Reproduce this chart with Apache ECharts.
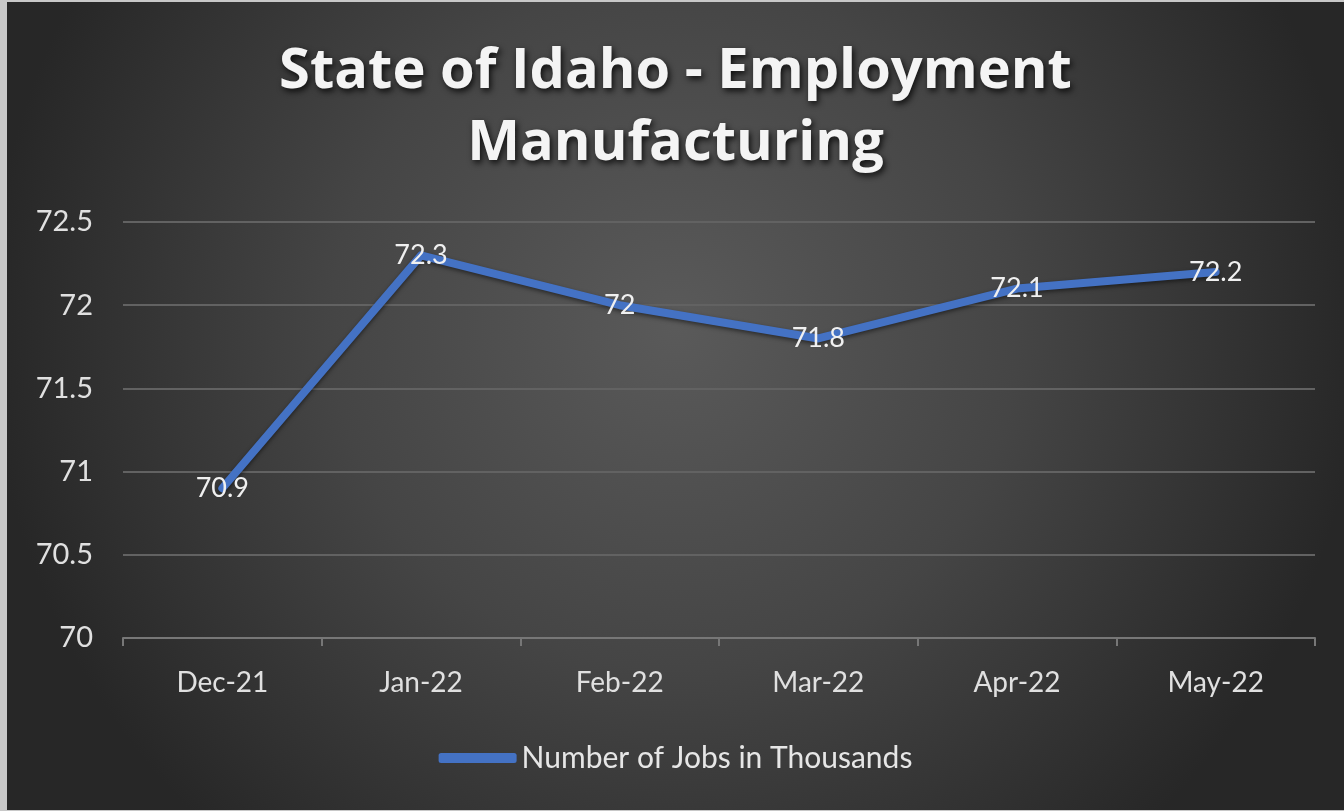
<!DOCTYPE html>
<html><head><meta charset="utf-8">
<script src="https://cdn.jsdelivr.net/npm/echarts@6/dist/echarts.min.js"></script>
<style>
html,body{margin:0;padding:0;background:#c8c8c8;width:1344px;height:811px;overflow:hidden;}
#c{position:absolute;left:7px;top:2px;width:1337px;height:808px;}
</style></head><body>
<div id="c"></div>
<script>
const categories = ['Dec-21','Jan-22','Feb-22','Mar-22','Apr-22','May-22'];
const jobs = [70.9, 72.3, 72.0, 71.8, 72.1, 72.2];
const seriesName = 'Number of Jobs in Thousands';
const titleText = 'State of Idaho - Employment\nManufacturing';

const chart = echarts.init(document.getElementById('c'));
const font = 'Lato, "Open Sans", sans-serif';
chart.setOption({
  backgroundColor: {
    type: 'radial', x: 0.5, y: 0.4, r: 0.85,
    colorStops: [{offset: 0, color: '#5a5a5a'}, {offset: 0.5, color: '#454545'}, {offset: 1, color: '#272727'}]
  },
  title: {
    text: titleText, left: 'center', top: 29,
    textStyle: {
      color: '#f4f4f4', fontSize: 56, fontWeight: 'bold', fontFamily: '"Open Sans", Lato, sans-serif',
      lineHeight: 72, textShadowColor: 'rgba(0,0,0,0.8)', textShadowBlur: 6, textShadowOffsetX: 2, textShadowOffsetY: 3
    }
  },
  legend: {
    bottom: 32, left: 'center',
    itemWidth: 78, itemHeight: 10, itemGap: 5,
    icon: 'roundRect',
    textStyle: {color: '#e6e6e6', fontSize: 30, fontFamily: font},
    data: [seriesName]
  },
  grid: {left: 116, right: 29, top: 220, bottom: 172, containLabel: false},
  xAxis: {
    type: 'category', data: categories, boundaryGap: true,
    axisLine: {show: true, lineStyle: {color: '#777', width: 2}},
    axisTick: {show: true, length: 8, lineStyle: {color: '#777', width: 2}},
    axisLabel: {color: '#e0e0e0', fontSize: 28, fontFamily: font, margin: 31}
  },
  yAxis: {
    type: 'value', min: 70, max: 72.5, interval: 0.5,
    axisLine: {show: false}, axisTick: {show: false},
    axisLabel: {color: '#e0e0e0', fontSize: 29, fontFamily: font, margin: 30},
    splitLine: {lineStyle: {color: '#626262', width: 2}}
  },
  series: [{
    name: seriesName, type: 'line', data: jobs,
    symbol: 'circle', symbolSize: 1, showSymbol: true, smooth: false,
    lineStyle: {color: '#4472C4', width: 8, cap: 'round', join: 'round',
      shadowColor: 'rgba(0,0,0,0.5)', shadowBlur: 4, shadowOffsetY: 2},
    itemStyle: {color: '#4472C4'},
    label: {show: true, position: 'inside', color: '#f0f0f0', fontSize: 27, fontFamily: font,
      formatter: p => String(p.value)},
    labelLayout: {hideOverlap: false}
  }]
});
</script>
</body></html>
